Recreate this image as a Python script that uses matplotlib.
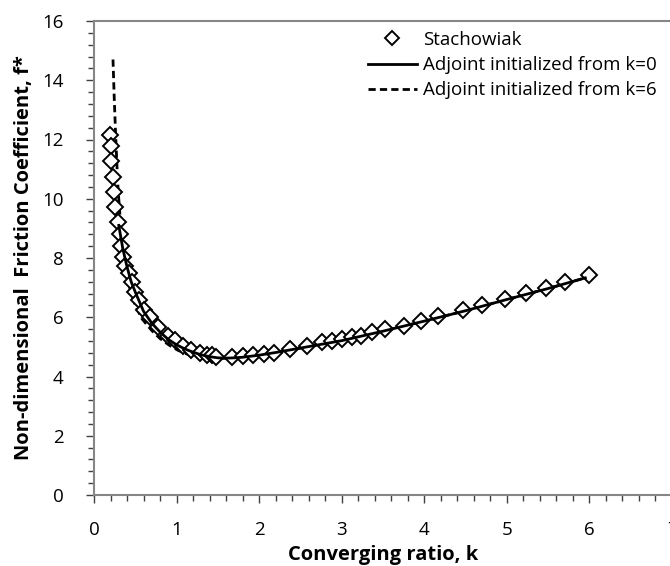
import matplotlib

matplotlib.use("Agg")

import matplotlib.pyplot as plt
from matplotlib.ticker import MultipleLocator

# Stachowiak reference points
stach_k = [0.19, 0.20, 0.21, 0.23, 0.24, 0.26, 0.29, 0.31, 0.33, 0.35,
           0.38, 0.42, 0.46, 0.50, 0.55, 0.61, 0.68, 0.78, 0.90, 0.98,
           1.08, 1.18, 1.28, 1.37, 1.43, 1.48, 1.67, 1.80, 1.93, 2.06,
           2.18, 2.37, 2.58, 2.76, 2.88, 3.00, 3.12, 3.23, 3.37, 3.53,
           3.75, 3.96, 4.17, 4.47, 4.70, 4.98, 5.23, 5.48, 5.71, 6.00]
stach_f = [12.15, 11.78, 11.28, 10.72, 10.24, 9.71, 9.23, 8.82, 8.40, 8.04,
           7.73, 7.48, 7.20, 6.86, 6.58, 6.24, 6.00, 5.68, 5.37, 5.23,
           5.03, 4.89, 4.80, 4.73, 4.73, 4.67, 4.67, 4.69, 4.74, 4.76,
           4.80, 4.94, 5.03, 5.15, 5.21, 5.26, 5.32, 5.38, 5.49, 5.59,
           5.70, 5.87, 6.05, 6.24, 6.41, 6.62, 6.81, 7.00, 7.20, 7.43]

# adjoint solution started from k=0
k0_k = [0.30, 0.35, 0.40, 0.45, 0.50, 0.60, 0.70, 0.80, 0.90, 1.00,
        1.10, 1.20, 1.30, 1.40, 1.50, 1.60, 1.70, 1.80, 2.00, 2.20,
        2.40, 2.60, 2.80, 3.00, 3.50, 4.00, 4.50, 5.00, 5.50, 5.95]
k0_f = [9.10, 8.30, 7.70, 7.20, 6.85, 6.20, 5.80, 5.50, 5.25, 5.07,
        4.93, 4.82, 4.73, 4.67, 4.63, 4.62, 4.63, 4.65, 4.72, 4.81,
        4.91, 5.01, 5.11, 5.21, 5.53, 5.87, 6.22, 6.60, 6.97, 7.33]

# adjoint solution started from k=6
k6_k = [0.23, 0.245, 0.26, 0.275, 0.29, 0.31, 0.33, 0.36, 0.40, 0.45,
        0.50, 0.58, 0.70, 0.80, 0.92, 1.02, 1.14, 1.30, 1.50, 1.70,
        1.80, 2.00, 2.20, 2.40, 2.60, 2.80, 3.00, 3.50, 4.00, 4.50,
        5.00, 5.50, 5.95]
k6_f = [14.70, 13.40, 12.30, 11.30, 10.40, 9.60, 8.90, 8.10, 7.35, 6.80,
        6.40, 5.95, 5.55, 5.28, 5.04, 4.88, 4.74, 4.65, 4.61, 4.63,
        4.65, 4.72, 4.81, 4.91, 5.01, 5.11, 5.21, 5.53, 5.87, 6.22,
        6.60, 6.97, 7.33]

SPINE_COLOR = "#868686"
TICK_COLOR = "#404040"
FONT = "Open Sans"

plt.rcParams["font.family"] = [FONT, "DejaVu Sans"]

fig = plt.figure(figsize=(6.70, 5.66), dpi=100)
ax = fig.add_axes([94 / 670, 1 - 495 / 566, 578 / 670, 474 / 566])

ax.plot(stach_k, stach_f, linestyle="none", marker="D", markersize=8.3,
        markerfacecolor="white", markeredgecolor="black", markeredgewidth=1.4,
        label="Stachowiak", zorder=3)
ax.plot(k0_k, k0_f, color="black", linewidth=2.0,
        label="Adjoint initialized from k=0", zorder=4)
ax.plot(k6_k, k6_f, color="black", linewidth=2.0, linestyle=(0, (2.6, 1.5)),
        label="Adjoint initialized from k=6", zorder=2)

ax.set_xlim(0, 7)
ax.set_ylim(0, 16)
ax.xaxis.set_major_locator(MultipleLocator(1))
ax.xaxis.set_minor_locator(MultipleLocator(0.2))
ax.yaxis.set_major_locator(MultipleLocator(2))
ax.yaxis.set_minor_locator(MultipleLocator(0.4))

for side in ["left", "bottom", "top"]:
    ax.spines[side].set_color(SPINE_COLOR)
    ax.spines[side].set_linewidth(1.5)
ax.spines["right"].set_visible(False)

ax.tick_params(which="major", direction="out", length=6, width=1.0,
               color=TICK_COLOR, labelsize=13.5)
ax.tick_params(axis="x", which="major", pad=13)
ax.tick_params(axis="y", which="major", pad=16)
ax.tick_params(which="minor", direction="out", length=4.5, width=1.0,
               color=TICK_COLOR)
ax.tick_params(axis="x", which="both", top=False)
ax.tick_params(axis="y", which="both", right=False)

ax.set_xlabel("Converging ratio, k", fontsize=14.5, fontweight="bold",
              labelpad=4)
ax.set_ylabel("Non-dimensional  Friction Coefficient, f*", fontsize=14.5,
              fontweight="bold", labelpad=6)

fig.legend(loc="upper left", bbox_to_anchor=(368 / 670, 1 - 31 / 566),
           frameon=False, fontsize=13.5, handlelength=2.6,
           handletextpad=0.35, labelspacing=0.38, borderaxespad=0.0,
           borderpad=0.0, markerscale=0.8)

fig.savefig("out.png", dpi=100)
